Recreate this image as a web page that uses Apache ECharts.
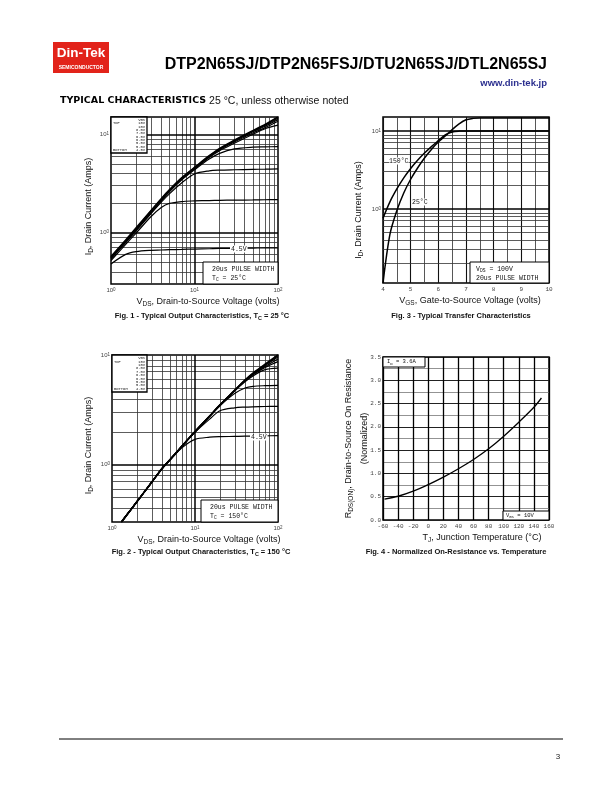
<!DOCTYPE html>
<html>
<head>
<meta charset="utf-8">
<script src="https://cdn.jsdelivr.net/npm/echarts@6/dist/echarts.min.js"></script>
<style>html,body{margin:0;padding:0;background:#fff}#c{width:612px;height:792px}</style>
</head>
<body>
<div id="c"></div>
<script>
// ---------------- DATA ----------------
// Fig. 1 - Typical Output Characteristics, Tc = 25 C  (VDS volts -> ID amps)
const fig1Vds = [1, 1.5, 2, 3, 4, 5, 7, 10, 15, 20, 30, 50, 70, 100];
const fig1Vgs15  = [0.57, 0.84, 1.12, 1.67, 2.21, 2.72, 3.60, 4.60, 6.05, 7.20, 8.70, 10.9, 12.6, 15.0];
const fig1Vgs10  = [0.57, 0.83, 1.10, 1.65, 2.19, 2.70, 3.58, 4.57, 6.00, 7.10, 8.60, 10.8, 12.4, 14.6];
const fig1Vgs8   = [0.56, 0.82, 1.09, 1.64, 2.17, 2.68, 3.55, 4.53, 5.95, 7.05, 8.50, 10.6, 12.1, 14.1];
const fig1Vgs7   = [0.56, 0.82, 1.08, 1.63, 2.16, 2.66, 3.52, 4.50, 5.90, 6.95, 8.35, 10.3, 11.7, 13.6];
const fig1Vgs6_5 = [0.55, 0.81, 1.07, 1.61, 2.13, 2.63, 3.48, 4.45, 5.80, 6.80, 8.10, 10.0, 11.4, 12.4];
const fig1Vgs6   = [0.55, 0.80, 1.06, 1.58, 2.10, 2.60, 3.42, 4.35, 5.60, 6.40, 7.10, 7.40, 7.45, 7.50];
const fig1Vgs5_5 = [0.54, 0.79, 1.04, 1.55, 2.04, 2.48, 3.20, 3.95, 4.25, 4.32, 4.36, 4.40, 4.42, 4.45];
const fig1Vgs5   = [0.52, 0.76, 0.99, 1.45, 1.80, 1.98, 2.07, 2.10, 2.12, 2.13, 2.14, 2.15, 2.16, 2.17];
const fig1Vgs4_5 = [0.48, 0.60, 0.64, 0.66, 0.665, 0.67, 0.675, 0.68, 0.685, 0.69, 0.69, 0.695, 0.70, 0.70];

// Fig. 2 - Typical Output Characteristics, Tc = 150 C
const fig2Vds = [1.3, 1.5, 2, 3, 4, 5, 7, 10, 15, 20, 30, 40, 50, 70, 100];
const fig2Vgs15  = [0.30, 0.346, 0.46, 0.69, 0.92, 1.11, 1.48, 2.00, 2.77, 3.50, 4.75, 5.90, 6.84, 8.22, 10.0];
const fig2Vgs10  = [0.30, 0.346, 0.46, 0.69, 0.92, 1.11, 1.48, 2.00, 2.77, 3.50, 4.75, 5.88, 6.80, 8.15, 9.85];
const fig2Vgs8   = [0.30, 0.346, 0.46, 0.69, 0.92, 1.11, 1.48, 2.00, 2.77, 3.50, 4.74, 5.86, 6.75, 8.00, 9.60];
const fig2Vgs7   = [0.30, 0.346, 0.46, 0.69, 0.92, 1.11, 1.48, 2.00, 2.77, 3.50, 4.73, 5.84, 6.70, 7.85, 9.20];
const fig2Vgs6_5 = [0.30, 0.346, 0.46, 0.69, 0.92, 1.11, 1.48, 2.00, 2.77, 3.50, 4.73, 5.82, 6.60, 7.70, 8.70];
const fig2Vgs6   = [0.30, 0.346, 0.46, 0.69, 0.92, 1.11, 1.48, 2.00, 2.77, 3.49, 4.70, 5.70, 6.45, 7.35, 7.60];
const fig2Vgs5_5 = [0.30, 0.346, 0.46, 0.69, 0.92, 1.11, 1.48, 2.00, 2.76, 3.45, 4.45, 5.00, 5.18, 5.25, 5.28];
const fig2Vgs5   = [0.30, 0.346, 0.46, 0.69, 0.92, 1.11, 1.48, 1.97, 2.60, 3.10, 3.30, 3.35, 3.37, 3.39, 3.40];
const fig2Vgs4_5 = [0.30, 0.346, 0.46, 0.69, 0.92, 1.10, 1.43, 1.70, 1.78, 1.80, 1.81, 1.82, 1.82, 1.83, 1.84];

// Fig. 3 - Typical Transfer Characteristics (VGS volts -> ID amps)
const fig3Vgs   = [4, 4.25, 4.5, 4.75, 5, 5.25, 5.5, 5.75, 6, 6.25, 6.5, 6.75, 7, 7.25, 7.5, 8, 9, 10];
const fig3Tj150 = [0.76, 1.23, 1.80, 2.50, 3.30, 4.20, 5.20, 6.30, 7.50, 8.90, 9.70, 9.95, 10.0, 10.0, 10.0, 10.0, 10.0, 10.0];
const fig3Tj25  = [0.112, 0.47, 0.95, 1.60, 2.40, 3.35, 4.50, 5.80, 7.20, 8.60, 10.4, 12.3, 13.9, 14.5, 14.7, 14.7, 14.7, 14.7];

// Fig. 4 - Normalized On-Resistance vs. Temperature
const fig4Tj  = [-58, -40, -20, 0, 20, 40, 60, 80, 100, 120, 140, 150];
const fig4Rds = [0.45, 0.51, 0.62, 0.76, 0.92, 1.10, 1.30, 1.53, 1.80, 2.10, 2.42, 2.62];

// Tick labels / grid lines
const fig12XTicks = [1, 10, 100];
const fig12YTicks = [1, 10];
const fig3YTicks = [1, 10];
const logXMinorGrid = [2, 3, 4, 5, 6, 7, 8, 9, 20, 30, 40, 50, 60, 70, 80, 90];
const logXMajorGrid = [10];
const fig1YMinorGrid = [0.4, 0.5, 0.6, 0.7, 0.8, 0.9, 2, 3, 4, 5, 6, 7, 8, 9];
const fig1YMajorGrid = [1, 10];
const fig2YMinorGrid = [0.4, 0.5, 0.6, 0.7, 0.8, 0.9, 2, 3, 4, 5, 6, 7, 8, 9];
const fig2YMajorGrid = [1];
const fig3YMinorGrid = [0.2, 0.3, 0.4, 0.5, 0.6, 0.7, 0.8, 0.9, 2, 3, 4, 5, 6, 7, 8, 9];
const fig3YMajorGrid = [1, 10];
const vgsSteps = ['15V', '10V', '8.0V', '7.0V', '6.5V', '6.0V', '5.5V', '5.0V', '4.5V'];

// ---------------- CHART ----------------
const lg = v => Math.log10(v);
const id = v => v;
const pts = (xs, ys, fx, fy) => xs.map((x, i) => [fx(x), fy(ys[i])]);

const SANS = 'Liberation Sans';
const MONO = 'Liberation Mono';
const LBL = '#444';

const logRich = {
  b: {fontFamily: SANS, fontSize: 6, color: LBL},
  s: {fontFamily: SANS, fontSize: 4.5, color: LBL, verticalAlign: 'top'}
};
const logFmt = v => '{b|10}{s|' + Math.round(v) + '}';

const nameRich = {
  t: {fontFamily: SANS, fontSize: 9, color: '#111'},
  s: {fontFamily: SANS, fontSize: 6.5, color: '#111', padding: [5, 0, 0, 0]}
};

function baseAxis(extra) {
  return Object.assign({
    type: 'value',
    nameMoveOverlap: false,
    axisLine: {show: false},
    axisTick: {show: false},
    splitLine: {show: false}
  }, extra);
}

const ch = echarts.init(document.getElementById('c'), null, {renderer: 'canvas'});

function gridSeries(ax, xs, ys, color, width, fx, fy) {
  const data = [];
  xs.forEach(v => data.push({xAxis: fx(v)}));
  ys.forEach(v => data.push({yAxis: fy(v)}));
  return {
    type: 'line', xAxisIndex: ax, yAxisIndex: ax, data: [], silent: true, z: 1,
    showSymbol: false,
    markLine: {
      silent: true, symbol: ['none', 'none'], z: 1, animation: false,
      label: {show: false},
      lineStyle: {color: color, width: width, type: 'solid'},
      emphasis: {disabled: true},
      data: data
    }
  };
}

function curve(ax, name, xs, ys, fx, fy, w) {
  return {
    type: 'line', name: name, xAxisIndex: ax, yAxisIndex: ax,
    data: pts(xs, ys, fx, fy), smooth: 0.3, showSymbol: false, silent: true, z: 3,
    lineStyle: {color: '#000', width: w || 1.3}
  };
}

const fig1Curves = [fig1Vgs15, fig1Vgs10, fig1Vgs8, fig1Vgs7, fig1Vgs6_5, fig1Vgs6, fig1Vgs5_5, fig1Vgs5, fig1Vgs4_5];
const fig2Curves = [fig2Vgs15, fig2Vgs10, fig2Vgs8, fig2Vgs7, fig2Vgs6_5, fig2Vgs6, fig2Vgs5_5, fig2Vgs5, fig2Vgs4_5];

const series = [
  gridSeries(0, logXMinorGrid, fig1YMinorGrid, '#333', 0.8, lg, lg),
  gridSeries(0, logXMajorGrid, fig1YMajorGrid, '#000', 1.5, lg, lg),
  gridSeries(1, logXMinorGrid, fig2YMinorGrid, '#333', 0.8, lg, lg),
  gridSeries(1, logXMajorGrid, fig2YMajorGrid, '#000', 1.5, lg, lg),
  gridSeries(2, [], fig3YMinorGrid, '#333', 0.8, id, lg),
  gridSeries(2, [], fig3YMajorGrid, '#000', 1.5, id, lg)
];
fig1Curves.forEach((ys, k) => series.push(curve(0, 'VGS ' + vgsSteps[k], fig1Vds, ys, lg, lg, k === 0 ? 1.6 : 1.2)));
fig2Curves.forEach((ys, k) => series.push(curve(1, 'VGS ' + vgsSteps[k], fig2Vds, ys, lg, lg, k === 0 ? 1.8 : 1.2)));
series.push(curve(2, '150 C', fig3Vgs, fig3Tj150, id, lg, 1.5));
series.push(curve(2, '25 C', fig3Vgs, fig3Tj25, id, lg, 1.5));
series.push(curve(3, 'RDS(on)', fig4Tj, fig4Rds, id, id, 1.3));

// ---------------- graphic (texts, boxes) ----------------
const G = [];
function T(x, y, text, o) {
  o = o || {};
  const st = {
    text: text, x: x, y: y,
    fill: o.fill || '#111',
    font: o.font || ('6.5px ' + MONO),
    align: o.align || 'left', textAlign: o.align || 'left',
    verticalAlign: 'middle', textVerticalAlign: 'middle'
  };
  if (o.rich) st.rich = o.rich;
  if (o.bg) { st.backgroundColor = o.bg; st.padding = o.pad || [0, 1]; }
  G.push({type: 'text', z: 110, silent: true, style: st});
}
function R(x, y, w, h, lw) {
  G.push({type: 'rect', z: 100, silent: true, shape: {x: x, y: y, width: w, height: h},
          style: {fill: '#fff', stroke: '#000', lineWidth: lw || 1}});
}
function legendBox(x, y, w, h) {
  R(x, y, w, h, 1.3);
  const lh = (h - 3) / 10;
  const f = '3.8px ' + MONO;
  T(x + w - 2, y + 1.5 + lh * 0.5, 'VGS', {font: f, align: 'right'});
  vgsSteps.forEach((s, i) => T(x + w - 2, y + 1.5 + lh * (i + 1.5), s, {font: f, align: 'right'}));
  T(x + 2, y + 1.5 + lh * 1.5, 'TOP', {font: f});
  T(x + 2, y + 1.5 + lh * 9.5, 'BOTTOM', {font: f});
}
const subRich = (fs, fam, w) => ({
  n: {fontSize: fs, fontFamily: fam, fontWeight: w || 'normal', fill: '#111', color: '#111'},
  s: {fontSize: fs * 0.72, fontFamily: fam, fontWeight: w || 'normal', fill: '#111', color: '#111', padding: [fs * 0.55, 0, 0, 0]}
});
const monoRich = subRich(6.5, MONO);
const capRich = subRich(7.5, SANS, 'bold');

// header
G.push({type: 'rect', z: 100, silent: true, shape: {x: 53, y: 42, width: 56, height: 31}, style: {fill: '#e2231a'}});
T(81, 53.5, 'Din-Tek', {font: 'bold 13.5px ' + SANS, fill: '#fff', align: 'center'});
T(81, 67.5, 'SEMICONDUCTOR', {font: 'bold 5px ' + SANS, fill: '#fff', align: 'center'});
T(547, 65, 'DTP2N65SJ/DTP2N65FSJ/DTU2N65SJ/DTL2N65SJ', {font: 'bold 16px ' + SANS, fill: '#000', align: 'right'});
T(547, 83, 'www.din-tek.jp', {font: 'bold 9.5px ' + SANS, fill: '#2b2f8f', align: 'right'});
T(60, 101, '{h|TYPICAL CHARACTERISTICS}{r| 25 °C, unless otherwise noted}', {
  rich: {
    h: {fontSize: 9.5, fontFamily: 'DejaVu Sans', fontWeight: 'bold', fill: '#000', color: '#000'},
    r: {fontSize: 10.5, fontFamily: SANS, fill: '#111', color: '#111'}
  }
});
// footer
G.push({type: 'line', z: 100, silent: true, shape: {x1: 59, y1: 739, x2: 563, y2: 739}, style: {stroke: '#000', lineWidth: 1}});
T(558, 757, '3', {font: '8px ' + SANS, fill: '#222', align: 'center'});

// Fig 1 annotations
legendBox(111, 117, 36, 36);
R(203, 262, 75, 22, 1);
T(212, 269, '{n|20us PULSE WIDTH}', {rich: monoRich});
T(212, 278, '{n|T}{s|C}{n| = 25°C}', {rich: monoRich});
T(230, 249, '4.5V', {bg: '#fff'});
T(202, 316, '{n|Fig. 1 - Typical Output Characteristics, T}{s|C}{n| = 25 °C}', {rich: capRich, align: 'center'});

// Fig 2 annotations
legendBox(112, 355, 35, 37);
R(201, 500, 77, 22, 1);
T(210, 507, '{n|20us PULSE WIDTH}', {rich: monoRich});
T(210, 516, '{n|T}{s|C}{n| = 150°C}', {rich: monoRich});
T(250, 437, '4.5V', {bg: '#fff'});
T(201, 552, '{n|Fig. 2 - Typical Output Characteristics, T}{s|C}{n| = 150 °C}', {rich: capRich, align: 'center'});

// Fig 3 annotations
R(470, 262, 79, 21, 1);
T(476, 269, '{n|V}{s|DS}{n| = 100V}', {rich: monoRich});
T(476, 278, '{n|20us PULSE WIDTH}', {rich: monoRich});
T(389, 161, '150°C', {bg: '#fff', pad: [0, 0]});
T(412, 202, '25°C', {bg: '#fff', pad: [0, 0]});
T(461, 316, '{n|Fig. 3 - Typical Transfer Characteristics}', {rich: capRich, align: 'center'});

// Fig 4 annotations
R(383, 357, 42, 10, 1);
T(387, 362, '{n|I}{s|D}{n| = 3.6A}', {rich: subRich(5.5, MONO)});
R(503, 511, 46, 9, 1);
T(506, 515.5, '{n|V}{s|GS}{n| = 10V}', {rich: subRich(5.5, MONO)});
T(456, 552, '{n|Fig. 4 - Normalized On-Resistance vs. Temperature}', {rich: capRich, align: 'center'});

const gridBase = {show: true, borderColor: '#000', borderWidth: 1.5, backgroundColor: 'rgba(0,0,0,0)', containLabel: false, outerBoundsMode: 'none'};

const option = {
  animation: false,
  backgroundColor: '#fff',
  grid: [
    Object.assign({left: 111, top: 117, width: 167, height: 167}, gridBase),
    Object.assign({left: 112, top: 355, width: 166, height: 167}, gridBase),
    Object.assign({left: 383, top: 117, width: 166, height: 166}, gridBase),
    Object.assign({left: 383, top: 357, width: 166, height: 163}, gridBase)
  ],
  xAxis: [
    baseAxis({gridIndex: 0, min: 0, max: 2,
      name: '{t|V}{s|DS}{t|, Drain-to-Source Voltage (volts)}', nameLocation: 'middle', nameGap: 12,
      nameTextStyle: {rich: nameRich, padding: [0, 0, 0, 27]},
      axisLabel: {customValues: fig12XTicks.map(lg), formatter: logFmt, rich: logRich, margin: 3}}),
    baseAxis({gridIndex: 1, min: 0, max: 2,
      name: '{t|V}{s|DS}{t|, Drain-to-Source Voltage (volts)}', nameLocation: 'middle', nameGap: 12,
      nameTextStyle: {rich: nameRich, padding: [0, 0, 0, 28]},
      axisLabel: {customValues: fig12XTicks.map(lg), formatter: logFmt, rich: logRich, margin: 3}}),
    baseAxis({gridIndex: 2, min: 4, max: 10, interval: 1,
      name: '{t|V}{s|GS}{t|, Gate-to-Source Voltage (volts)}', nameLocation: 'middle', nameGap: 12,
      nameTextStyle: {rich: nameRich, padding: [0, 0, 0, 8]},
      splitLine: {show: true, lineStyle: {color: '#111', width: 1.1}},
      minorSplitLine: {show: true, lineStyle: {color: '#444', width: 0.9}},
      minorTick: {show: false, splitNumber: 2},
      axisLabel: {fontFamily: MONO, fontSize: 6, color: LBL, margin: 3}}),
    baseAxis({gridIndex: 3, min: -60, max: 160, interval: 20,
      name: '{t|T}{s|J}{t|, Junction Temperature (°C)}', nameLocation: 'middle', nameGap: 12,
      nameTextStyle: {rich: nameRich, padding: [0, 0, 0, 32]},
      splitLine: {show: true, lineStyle: {color: '#000', width: 1.3}},
      axisLabel: {fontFamily: MONO, fontSize: 6, color: LBL, margin: 3}})
  ],
  yAxis: [
    baseAxis({gridIndex: 0, min: lg(0.3), max: lg(15),
      name: '{t|I}{s|D}{t|, Drain Current (Amps)}', nameLocation: 'middle', nameGap: 16, nameRotate: 90,
      nameTextStyle: {rich: nameRich, padding: [0, 12, 0, 0]},
      axisLabel: {customValues: fig12YTicks.map(lg), formatter: logFmt, rich: logRich, margin: 2}}),
    baseAxis({gridIndex: 1, min: lg(0.3), max: 1,
      name: '{t|I}{s|D}{t|, Drain Current (Amps)}', nameLocation: 'middle', nameGap: 17, nameRotate: 90,
      nameTextStyle: {rich: nameRich, padding: [0, 14, 0, 0]},
      axisLabel: {customValues: fig12YTicks.map(lg), formatter: logFmt, rich: logRich, margin: 2}}),
    baseAxis({gridIndex: 2, min: lg(0.112), max: lg(15.1),
      name: '{t|I}{s|D}{t|, Drain Current (Amps)}', nameLocation: 'middle', nameGap: 18, nameRotate: 90,
      nameTextStyle: {rich: nameRich, padding: [0, 20, 0, 0]},
      axisLabel: {customValues: fig3YTicks.map(lg), formatter: logFmt, rich: logRich, margin: 2}}),
    baseAxis({gridIndex: 3, min: 0, max: 3.5, interval: 0.5,
      name: '{t|R}{s|DS(ON)}{t|, Drain-to-Source On Resistance}\n{t|(Normalized)}', nameLocation: 'middle', nameGap: 10, nameRotate: 90,
      nameTextStyle: {rich: nameRich, lineHeight: 16},
      splitLine: {show: true, lineStyle: {color: '#222', width: 1}},
      minorSplitLine: {show: true, lineStyle: {color: '#777', width: 0.8}},
      minorTick: {show: false, splitNumber: 2},
      axisLabel: {fontFamily: MONO, fontSize: 6, color: LBL, margin: 2, formatter: v => v.toFixed(1)}})
  ],
  series: series,
  graphic: {elements: G}
};
ch.setOption(option);
</script>
</body>
</html>
